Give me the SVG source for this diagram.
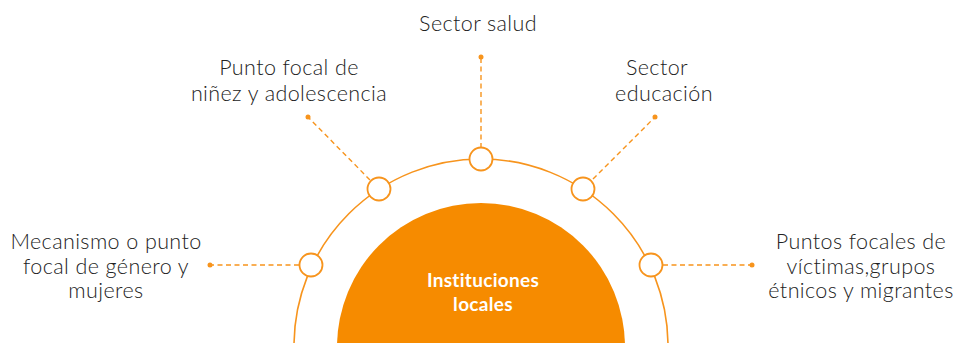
<svg xmlns="http://www.w3.org/2000/svg" width="953" height="343" viewBox="0 0 953 343">
<style>
.lbl{font-family:Lato,"Open Sans","Liberation Sans",sans-serif;font-size:21.5px;fill:#222;text-anchor:middle;font-weight:300;letter-spacing:0.4px}
.ctr{font-family:Lato,"Open Sans","Liberation Sans",sans-serif;font-size:19px;fill:#fff;text-anchor:middle;font-weight:bold;letter-spacing:0.3px}
.ring{fill:none;stroke:#F7941D;stroke-width:1.6}
.node{fill:#fff;stroke:#F7941D;stroke-width:1.8}
.dash{stroke:#F7941D;stroke-width:1.4;stroke-dasharray:5 3.5;fill:none}
.dot{fill:#F7941D}
</style>
<rect width="953" height="343" fill="#fff"/>
<g id="arc">
<circle class="ring" cx="481" cy="346" r="187"/>
</g>
<g id="center">
<circle cx="481" cy="347" r="144" fill="#F68B00"/>
<text class="ctr" x="483" y="287">Instituciones</text>
<text class="ctr" x="483" y="311">locales</text>
</g>
<g id="connectors">
<line class="dash" x1="481" y1="148" x2="481" y2="57"/>
<circle class="dot" cx="481" cy="57" r="2.5"/>
<line class="dash" x1="370" y1="180" x2="308" y2="117"/>
<circle class="dot" cx="308" cy="117" r="2.5"/>
<line class="dash" x1="593" y1="179" x2="655" y2="117"/>
<circle class="dot" cx="655" cy="117" r="2.5"/>
<line class="dash" x1="299" y1="265" x2="210" y2="265"/>
<circle class="dot" cx="210" cy="265" r="2.5"/>
<line class="dash" x1="663" y1="265" x2="752" y2="265"/>
<circle class="dot" cx="752" cy="265" r="2.5"/>
</g>
<g id="n-salud">
<circle class="node" cx="481" cy="159" r="11.5"/>
<text class="lbl" x="478" y="31">Sector salud</text>
</g>
<g id="n-ninez">
<circle class="node" cx="379" cy="189" r="11.5"/>
<text class="lbl" x="289" y="75">Punto focal de</text>
<text class="lbl" x="289" y="101">niñez y adolescencia</text>
</g>
<g id="n-educacion">
<circle class="node" cx="583" cy="189" r="11.5"/>
<text class="lbl" x="657" y="75">Sector</text>
<text class="lbl" x="664" y="101">educación</text>
</g>
<g id="n-genero">
<circle class="node" cx="311" cy="265" r="11.5"/>
<text class="lbl" x="106" y="249">Mecanismo o punto</text>
<text class="lbl" x="106" y="274">focal de género y</text>
<text class="lbl" x="106" y="298">mujeres</text>
</g>
<g id="n-victimas">
<circle class="node" cx="651" cy="265" r="11.5"/>
<text class="lbl" x="861" y="249">Puntos focales de</text>
<text class="lbl" x="861" y="274">víctimas,grupos</text>
<text class="lbl" x="861" y="298">étnicos y migrantes</text>
</g>
</svg>
